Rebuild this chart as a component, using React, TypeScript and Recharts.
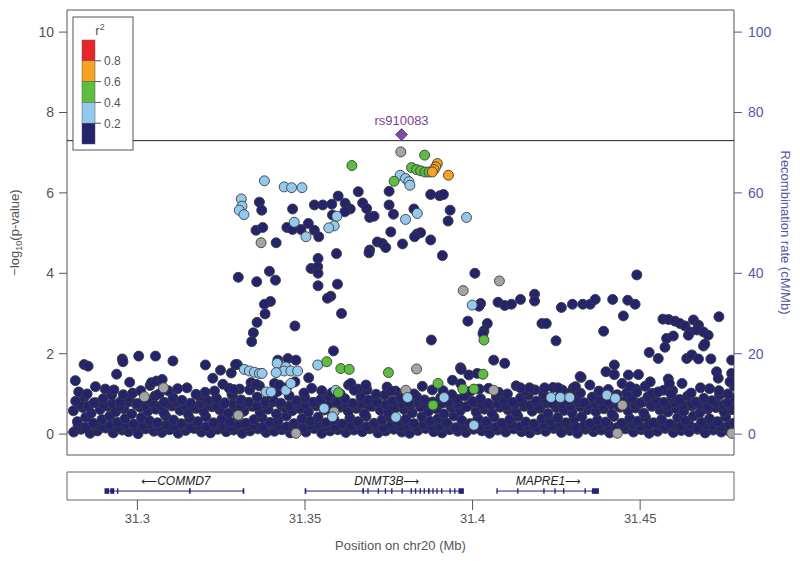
import { ComposedChart, Scatter, XAxis, YAxis, ReferenceLine, ReferenceArea } from "recharts"

const X_MIN = 31.279
const X_MAX = 31.478
const P_DOMAIN = [-0.52, 10.55]
const R_DOMAIN = [-5.2, 105.5]
const pTicks = [0, 2, 4, 6, 8, 10]
const rateTicks = [0, 20, 40, 60, 80, 100]
const posTicks = [31.3, 31.35, 31.4, 31.45]

// SNPs: [kb past 31 Mb, -log10 p]
const bandLow = [[281.0,0.05],[283.2,0.12],[285.9,0.02],[288.1,0.08],[290.6,0.15],[292.8,0.03],[295.5,0.1],[297.4,0.06],[300.2,0.01],[302.5,0.13],[304.9,0.07],[307.3,0.04],[309.6,0.11],[312.2,0.02],[314.4,0.09],[316.9,0.14],[319.1,0.05],[321.8,0.03],[324.0,0.12],[326.5,0.06],[328.7,0.1],[331.3,0.02],[333.6,0.08],[336.0,0.13],[338.4,0.04],[340.9,0.07],[343.1,0.11],[345.6,0.03],[347.8,0.09],[350.3,0.05],[352.7,0.14],[355.0,0.02],[357.5,0.08],[359.8,0.11],[362.2,0.04],[364.6,0.1],[367.1,0.06],[369.3,0.13],[371.8,0.03],[374.1,0.08],[376.5,0.12],[378.9,0.05],[381.2,0.02],[383.7,0.09],[386.0,0.14],[388.4,0.06],[390.9,0.03],[393.2,0.11],[395.6,0.07],[398.0,0.04],[400.3,0.12],[402.8,0.08],[405.1,0.02],[407.5,0.1],[409.9,0.05],[412.3,0.13],[414.6,0.06],[417.1,0.03],[419.4,0.11],[421.8,0.07],[424.2,0.14],[426.5,0.04],[429.0,0.09],[431.3,0.02],[433.7,0.12],[436.1,0.06],[438.4,0.1],[440.9,0.03],[443.2,0.08],[445.6,0.13],[448.0,0.05],[450.4,0.11],[452.7,0.02],[455.2,0.07],[457.5,0.14],[459.9,0.04],[462.3,0.09],[464.6,0.06],[467.1,0.12],[469.4,0.03],[471.8,0.1],[474.2,0.05],[476.6,0.08],[478.7,0.13]]
const bandQuarter = [[282.3,0.2],[284.5,0.17],[287.1,0.23],[289.5,0.19],[291.9,0.22],[294.3,0.16],[296.7,0.24],[299.1,0.18],[301.5,0.21],[303.9,0.25],[306.2,0.17],[308.6,0.22],[311.0,0.19],[313.4,0.24],[315.8,0.16],[318.2,0.21],[320.6,0.18],[323.0,0.23],[325.4,0.2],[327.8,0.16],[330.2,0.24],[332.6,0.19],[335.0,0.22],[337.4,0.17],[339.8,0.25],[342.2,0.2],[344.6,0.18],[347.0,0.23],[349.4,0.16],[351.8,0.21],[354.2,0.24],[356.6,0.19],[359.0,0.17],[361.4,0.22],[363.8,0.2],[366.2,0.25],[368.6,0.18],[371.0,0.21],[373.4,0.16],[375.8,0.23],[378.2,0.19],[380.6,0.22],[383.0,0.17],[385.4,0.24],[387.8,0.2],[390.2,0.18],[392.6,0.23],[395.0,0.16],[397.4,0.21],[399.8,0.25],[402.2,0.19],[404.6,0.22],[407.0,0.17],[409.4,0.2],[411.8,0.24],[414.2,0.18],[416.6,0.21],[419.0,0.16],[421.4,0.23],[423.8,0.19],[426.2,0.25],[428.6,0.2],[431.0,0.17],[433.4,0.22],[435.8,0.18],[438.2,0.24],[440.6,0.21],[443.0,0.16],[445.4,0.2],[447.8,0.23],[450.2,0.18],[452.6,0.22],[455.0,0.25],[457.4,0.17],[459.8,0.21],[462.2,0.19],[464.6,0.24],[467.0,0.16],[469.4,0.22],[471.8,0.2],[474.2,0.18],[476.6,0.23],[478.9,0.19]]
const bandMid = [[282.1,0.31],[284.6,0.42],[286.8,0.27],[289.4,0.36],[291.7,0.44],[294.1,0.29],[296.3,0.38],[298.9,0.25],[301.2,0.41],[303.6,0.33],[306.0,0.28],[308.4,0.45],[310.8,0.35],[313.1,0.26],[315.6,0.39],[318.0,0.31],[320.4,0.43],[322.7,0.28],[325.2,0.37],[327.6,0.3],[330.0,0.44],[332.4,0.27],[334.8,0.36],[337.2,0.41],[339.6,0.29],[342.0,0.34],[344.4,0.45],[346.7,0.26],[349.1,0.38],[351.5,0.32],[353.9,0.42],[356.3,0.28],[358.7,0.36],[361.1,0.25],[363.4,0.4],[365.8,0.31],[368.2,0.44],[370.6,0.27],[373.0,0.35],[375.4,0.42],[377.7,0.29],[380.1,0.37],[382.5,0.26],[384.9,0.43],[387.3,0.32],[389.7,0.38],[392.1,0.28],[394.4,0.45],[396.8,0.34],[399.2,0.26],[401.6,0.39],[404.0,0.31],[406.4,0.42],[408.7,0.27],[411.1,0.36],[413.5,0.44],[415.9,0.3],[418.3,0.25],[420.7,0.38],[423.0,0.33],[425.4,0.41],[427.8,0.28],[430.2,0.37],[432.6,0.43],[435.0,0.26],[437.3,0.35],[439.7,0.3],[442.1,0.44],[444.5,0.27],[446.9,0.39],[449.3,0.32],[451.6,0.42],[454.0,0.28],[456.4,0.36],[458.8,0.25],[461.2,0.41],[463.6,0.33],[465.9,0.45],[468.3,0.29],[470.7,0.38],[473.1,0.31],[475.5,0.43],[477.9,0.27]]
const bandHigh = [[280.9,0.58],[283.7,0.66],[286.2,0.52],[288.9,0.61],[291.2,0.69],[293.5,0.55],[296.0,0.63],[298.3,0.5],[300.8,0.67],[303.1,0.57],[305.5,0.62],[307.9,0.53],[310.3,0.7],[312.7,0.59],[315.1,0.51],[317.5,0.64],[319.8,0.56],[322.3,0.68],[324.6,0.6],[327.1,0.52],[329.4,0.65],[331.8,0.57],[334.3,0.69],[336.6,0.54],[339.0,0.62],[341.5,0.5],[343.8,0.66],[346.2,0.58],[348.6,0.63],[351.0,0.55],[353.4,0.7],[355.8,0.6],[358.2,0.52],[360.6,0.67],[362.9,0.57],[365.3,0.64],[367.7,0.51],[370.1,0.69],[372.5,0.59],[374.9,0.54],[377.2,0.66],[379.6,0.61],[382.0,0.53],[384.4,0.68],[386.8,0.56],[389.2,0.63],[391.5,0.5],[393.9,0.65],[396.3,0.58],[398.7,0.7],[401.1,0.55],[403.5,0.62],[405.8,0.52],[408.2,0.67],[410.6,0.6],[413.0,0.54],[415.4,0.69],[417.8,0.57],[420.1,0.64],[422.5,0.51],[424.9,0.66],[427.3,0.59],[429.7,0.53],[432.1,0.68],[434.4,0.61],[436.8,0.56],[439.2,0.63],[441.6,0.5],[444.0,0.67],[446.4,0.58],[448.7,0.65],[451.1,0.52],[453.5,0.69],[455.9,0.6],[458.3,0.55],[460.7,0.64],[463.0,0.57],[465.4,0.7],[467.8,0.53],[470.2,0.62],[472.6,0.66],[475.0,0.56],[477.4,0.61],[479.3,0.68]]
const bandThreeQuarter = [[282.8,0.74],[285.3,0.7],[287.7,0.78],[290.1,0.72],[292.5,0.76],[294.9,0.69],[297.3,0.8],[299.7,0.73],[302.1,0.71],[304.5,0.77],[306.9,0.7],[309.3,0.75],[311.7,0.79],[314.1,0.72],[316.5,0.68],[318.9,0.76],[321.3,0.73],[323.7,0.7],[326.1,0.78],[328.5,0.74],[330.9,0.71],[333.3,0.77],[335.7,0.69],[338.1,0.75],[340.5,0.8],[342.9,0.72],[345.3,0.7],[347.7,0.76],[350.1,0.73],[352.5,0.79],[354.9,0.71],[357.3,0.74],[359.7,0.68],[362.1,0.77],[364.5,0.72],[366.9,0.75],[369.3,0.7],[371.7,0.78],[374.1,0.73],[376.5,0.69],[378.9,0.76],[381.3,0.71],[383.7,0.79],[386.1,0.74],[388.5,0.7],[390.9,0.77],[393.3,0.72],[395.7,0.75],[398.1,0.68],[400.5,0.78],[402.9,0.73],[405.3,0.71],[407.7,0.76],[410.1,0.7],[412.5,0.74],[414.9,0.79],[417.3,0.72],[419.7,0.69],[422.1,0.77],[424.5,0.73],[426.9,0.75],[429.3,0.7],[431.7,0.78],[434.1,0.72],[436.5,0.76],[438.9,0.71],[441.3,0.74],[443.7,0.69],[446.1,0.77],[448.5,0.73],[450.9,0.8],[453.3,0.71],[455.7,0.75],[458.1,0.7],[460.5,0.78],[462.9,0.72],[465.3,0.76],[467.7,0.74],[470.1,0.69],[472.5,0.77],[474.9,0.73],[477.3,0.71],[479.0,0.75]]
const bandTop = [[281.6,0.82],[284.2,0.93],[287.0,0.78],[289.8,0.88],[292.3,0.97],[294.9,0.8],[297.6,0.9],[300.0,0.76],[302.9,0.86],[305.3,0.95],[308.0,0.79],[310.6,0.91],[313.3,0.84],[315.9,0.77],[318.5,0.94],[321.0,0.83],[323.6,0.89],[326.0,0.76],[328.4,0.96],[331.0,0.85],[333.2,0.79],[335.7,0.92],[338.2,0.81],[340.4,0.87],[342.8,0.77],[345.3,0.95],[347.5,0.83],[350.0,0.9],[352.4,0.78],[354.7,0.86],[357.1,0.94],[359.5,0.8],[361.9,0.88],[364.2,0.76],[366.7,0.92],[369.0,0.84],[371.4,0.79],[373.8,0.97],[376.2,0.82],[378.5,0.89],[381.0,0.77],[383.3,0.93],[385.7,0.85],[388.1,0.8],[390.5,0.91],[392.8,0.78],[395.2,0.87],[397.6,0.95],[400.0,0.81],[402.4,0.88],[404.7,0.76],[407.1,0.93],[409.5,0.84],[411.9,0.79],[414.3,0.9],[416.6,0.97],[419.0,0.82],[421.4,0.86],[423.8,0.77],[426.1,0.94],[428.5,0.83],[430.9,0.89],[433.3,0.78],[435.7,0.92],[438.0,0.85],[440.4,0.8],[442.8,0.96],[445.2,0.81],[447.6,0.88],[449.9,0.77],[452.3,0.93],[454.7,0.84],[457.1,0.79],[459.5,0.91],[461.8,0.86],[464.2,0.95],[466.6,0.8],[469.0,0.89],[471.4,0.83],[473.7,0.97],[476.1,0.78],[478.5,0.9]]
const bandCrest = [[282.5,1.05],[287.5,1.18],[293.0,1.1],[298.6,1.02],[303.8,1.21],[309.2,1.08],[314.8,1.15],[320.2,1.04],[325.5,1.24],[330.5,1.12],[336.4,1.2],[341.8,1.06],[347.0,1.3],[352.0,1.14],[358.0,1.03],[363.0,1.22],[368.5,1.1],[374.5,1.17],[380.0,1.05],[385.0,1.19],[391.2,1.08],[396.5,1.25],[402.0,1.12],[407.8,1.04],[413.0,1.2],[418.6,1.1],[424.0,1.16],[429.5,1.06],[435.0,1.22],[440.5,1.11],[446.0,1.03],[451.5,1.19],[457.0,1.09],[462.5,1.26],[468.0,1.15],[473.5,1.08],[478.0,1.2]]
const bandCrest2 = [[285.0,1.0],[290.4,1.12],[295.8,0.98],[301.0,1.08],[306.5,1.0],[312.0,1.13],[317.5,0.99],[323.0,1.07],[328.2,1.0],[333.5,1.1],[339.0,0.98],[344.5,1.15],[349.7,1.02],[355.0,1.08],[360.5,1.0],[365.8,1.12],[371.2,0.99],[377.0,1.07],[382.5,1.0],[388.0,1.1],[393.8,0.98],[399.3,1.06],[404.8,1.14],[410.4,1.0],[415.8,1.08],[421.2,0.99],[426.7,1.1],[432.2,1.02],[437.7,1.07],[443.2,0.98],[448.7,1.12],[454.2,1.0],[459.7,1.08],[465.2,1.02],[470.7,1.13],[476.2,1.0]]
const navyUpper = [[336.4,5.77],[337.1,5.57],[346.3,5.60],[352.8,5.70],[355.3,5.70],[358.0,5.72],[359.9,5.92],[365.9,6.03],[362.0,5.74],[363.5,5.60],[361.9,5.53],[367.2,5.75],[368.4,5.61],[369.3,5.39],[370.6,5.42],[358.2,5.45],[351.0,5.24],[335.4,5.07],[337.4,5.14],[344.6,5.14],[346.3,5.09],[348.8,5.09],[352.8,5.07],[354.1,4.91],[341.4,4.76],[371.6,4.78],[369.3,4.58],[369.1,4.51],[359.4,4.49],[353.9,4.37],[351.8,4.12],[353.8,4.16],[353.9,4.00],[339.4,4.05],[330.1,3.90],[335.6,3.79],[341.2,3.83],[359.7,3.73],[353.9,3.69],[357.7,3.43],[356.7,3.38],[339.7,3.30],
  [375.1,6.04],[387.5,5.96],[390.2,5.93],[391.3,5.96],[375.1,5.70],[376.4,5.47],[382.5,5.60],[393.3,5.57],[392.7,5.30],[375.6,5.03],[383.5,4.98],[384.5,5.01],[382.7,4.91],[387.5,4.83],[373.1,4.74],[374.1,4.64],[379.1,4.73],
  [391.0,4.44],[400.7,4.00],[402.4,3.25],[401.9,3.18],[407.6,3.28],[409.6,3.20],[411.6,3.23],[414.3,3.35],[418.5,3.48],[418.5,3.31],[398.6,2.81],[404.4,2.75],[403.4,2.57],[403.1,2.50],[420.7,2.75],[422.0,2.75],[424.9,2.32],[426.5,3.15],[429.8,3.23],[432.9,3.23],[435.1,3.23],[436.6,3.35],[441.8,3.35],[446.3,3.33],[448.5,3.23],[449.0,3.96],[445.0,2.94],[439.1,2.56],
  [456.8,2.86],[458.5,2.85],[460.4,2.81],[461.9,2.75],[463.4,2.69],[465.9,2.84],[467.4,2.71],[464.9,2.54],[466.9,2.59],[468.9,2.54],[464.4,2.46],[470.3,2.46],[473.5,2.92],[457.9,2.38],[459.9,2.44],[457.4,2.16],[468.9,2.19],[469.3,2.24],[452.7,2.03],[455.4,1.88],[463.9,1.88],[465.4,1.97],[467.4,1.87],[471.1,1.87],[477.3,1.84],[406.3,1.84],[409.6,1.76],[396.4,1.65],[442.3,1.72],
  [337.9,3.23],[338.1,2.99],[335.7,2.78],[334.6,2.52],[334.1,2.30],[347.0,2.69],[360.9,3.00],[387.7,2.34],[358.5,2.07],[344.9,1.88],[341.9,1.84],
  [329.8,1.73],[347.3,1.84],[351.1,1.40],[363.7,1.26],[364.7,1.09],[375.6,1.07],[394.0,1.34],[396.6,1.61],[398.9,1.47],[401.4,1.51],[414.3,1.15],[417.0,1.15],[421.5,1.15],[425.5,1.15],[430.1,1.15],[432.4,1.41],
  [439.8,1.55],[442.3,1.48],[446.5,1.47],[449.5,1.48],[453.0,1.30],[458.4,1.37],[458.7,1.26],[444.6,1.26],[447.0,1.18],[449.0,1.04],[453.5,1.01],[455.4,1.05],[459.2,1.01],[432.1,1.43],[430.7,1.18],[472.8,1.55],[473.3,1.39],[477.3,1.51],[476.8,1.30],
  [300.4,1.94],[305.4,1.94],[295.5,1.87],[295.7,1.80],[310.6,1.82],[284.1,1.73],[285.3,1.69],[320.3,1.72],[324.8,1.59],[328.0,1.52],[329.3,1.73],[293.8,1.49],[281.5,1.33],[297.7,1.29],[304.2,1.28],[305.7,1.32],[307.4,1.36],[322.5,1.39],[327.4,1.14],[328.7,1.11],
  [333.9,1.28],[335.4,1.24],[340.9,1.26],[342.4,1.22],[368.2,1.22]]
const grayPts = [[336.9,4.76],[408.0,3.81],[397.2,3.57],[307.8,1.15],[383.3,1.62],[406.3,1.09],[380.1,1.09],[330.1,0.47],[347.3,0.02],[358.7,0.55],[444.7,0.72],[443.2,0.02],[477.3,0.02],[302.1,0.93],[378.6,7.02]]
const lightBluePts = [[337.9,6.30],[343.8,6.15],[346.0,6.13],[349.1,6.13],[331.0,5.85],[331.2,5.67],[330.4,5.57],[331.8,5.46],[359.5,5.42],[358.7,5.18],[357.1,5.13],[346.8,5.27],[350.3,4.91],[378.4,6.44],[380.0,6.36],[381.0,6.28],[381.3,6.19],[383.5,5.49],[380.0,5.34],[398.2,5.39],[399.9,3.21],
  [353.8,1.72],[331.9,1.61],[333.4,1.57],[334.9,1.54],[336.4,1.51],[337.2,1.51],[341.7,1.76],[344.3,1.67],[343.8,1.57],[341.4,1.53],[345.8,1.57],[347.8,1.57],[338.4,1.05],[339.9,1.05],[344.3,1.09],[345.8,1.26],[359.2,1.09],[355.7,0.64],[358.2,0.43],[377.1,0.42],[380.6,0.91],[391.5,0.91],[423.4,0.91],[426.2,0.91],[429.0,0.91],[400.4,0.22],[440.1,0.97],[442.6,0.89]]
const greenPts = [[364.0,6.68],[385.7,6.94],[381.8,6.63],[383.3,6.58],[384.5,6.55],[385.8,6.52],[387.0,6.52],[376.6,6.29],[403.4,2.34],[356.5,1.80],[360.7,1.63],[363.2,1.61],[374.9,1.53],[360.0,1.03],[403.1,1.49],[389.7,1.26],[397.1,1.12],[400.4,1.12],[388.2,0.72]]
const orangePts = [[389.5,6.73],[389.0,6.65],[388.5,6.58],[388.0,6.52],[392.8,6.44]]
const indexSnp = [{ kb: 378.8, p: 7.45, name: "rs910083" }]

// recombination rate, cM/Mb
const recombRate = [[279, 0.5], [300, 0.6], [330, 0.4], [360, 0.5], [400, 0.8], [430, 1.0], [450, 2.2], [460, 1.2], [478, 0.6]]

// genes (Mb)
const genes = [
  { name: "COMMD7", dir: "left", start: 31.2903, end: 31.3317, labelAt: 31.3115 },
  { name: "DNMT3B", dir: "right", start: 31.3501, end: 31.3972, labelAt: 31.3744 },
  { name: "MAPRE1", dir: "right", start: 31.4073, end: 31.4375, labelAt: 31.4226 },
]
const exons = [
  [31.2902, 31.2916], [31.2919, 31.2931], [31.2939, 31.2943], [31.3154, 31.3159], [31.3314, 31.3319],
  [31.3499, 31.3504], [31.3671, 31.3676], [31.3686, 31.3690], [31.3717, 31.3721], [31.3738, 31.3742], [31.3757, 31.3761],
  [31.3788, 31.3792], [31.3815, 31.3819], [31.3828, 31.3832], [31.3842, 31.3846], [31.3854, 31.3858], [31.3867, 31.3872],
  [31.3880, 31.3884], [31.3892, 31.3896], [31.3906, 31.3910], [31.3931, 31.3935], [31.3945, 31.3949], [31.3958, 31.3974],
  [31.4071, 31.4075], [31.4133, 31.4137], [31.4211, 31.4215], [31.4244, 31.4248], [31.4270, 31.4274], [31.4334, 31.4338], [31.4356, 31.4377],
]

const legendColors = ["#e8262a", "#f7a321", "#5dbd3f", "#94c9ee", "#23236e"]
const legendLabels = ["0.8", "0.6", "0.4", "0.2"]

const NAVY = "#23236e"
const GRAY = "#a4a4a4"
const LIGHT_BLUE = "#94c9ee"
const GREEN = "#5dbd3f"
const ORANGE = "#f7a321"

const toPts = (rows: number[][]) => rows.map(([kb, p]) => ({ x: 31 + kb / 1000, p }))

const dot = (fill: string) => (props: any) => (
  <circle cx={props.cx} cy={props.cy} r={5} fill={fill} stroke="#3c3c3c" strokeWidth={0.9} />
)

const Diamond = (props: any) => {
  const { cx, cy, payload } = props
  return (
    <g>
      <polygon points={`${cx},${cy - 6} ${cx + 6},${cy} ${cx},${cy + 6} ${cx - 6},${cy}`} fill="#7c4ea3" stroke="#55306f" strokeWidth={0.8} />
      <text x={cx} y={cy - 10} textAnchor="middle" fill="#7a3f98" fontSize={13}>{payload.name}</text>
    </g>
  )
}

const LeftLabel = (props: any) => {
  const { viewBox } = props
  const cy = viewBox.y + viewBox.height / 2
  return (
    <text transform={`translate(19, ${cy}) rotate(-90)`} textAnchor="middle" fill="#555" fontSize={13}>
      <tspan>{"\u2212log"}</tspan>
      <tspan dy={3} fontSize={9}>10</tspan>
      <tspan dy={-3}>(p-value)</tspan>
    </text>
  )
}

const RightLabel = (props: any) => {
  const { viewBox } = props
  const cy = viewBox.y + viewBox.height / 2
  return (
    <text transform={`translate(781, ${cy}) rotate(90)`} textAnchor="middle" fill="#5656a6" fontSize={13}>
      Recombination rate (cM/Mb)
    </text>
  )
}

const BottomLabel = (props: any) => {
  const { viewBox } = props
  return (
    <text x={viewBox.x + viewBox.width / 2} y={viewBox.y + 50} textAnchor="middle" fill="#555" fontSize={13}>
      Position on chr20 (Mb)
    </text>
  )
}

const GeneLabel = (props: any) => {
  const { cx, cy, payload } = props
  const arrow = <tspan fontFamily="'DejaVu Sans'" fontStyle="normal" fontSize={11}>{payload.dir === "left" ? "\u27F5" : "\u27F6"}</tspan>
  return (
    <text x={cx} y={cy + 4} textAnchor="middle" fontStyle="italic" fill="#222" fontSize={12}>
      {payload.dir === "left" && arrow}
      <tspan>{payload.name}</tspan>
      {payload.dir !== "left" && arrow}
    </text>
  )
}

const Legend = () => {
  const top = 40
  const step = 20.8
  return (
    <svg width={800} height={561} style={{ position: "absolute", left: 0, top: 0, pointerEvents: "none" }}>
      <rect x={73} y={17} width={60} height={133} fill="#fff" stroke="#555" strokeWidth={1} />
      <text x={100} y={35} textAnchor="middle" fill="#555" fontSize={13}>
        r<tspan dy={-5} fontSize={9}>2</tspan>
      </text>
      {legendColors.map((c, i) => (
        <rect key={c} x={82} y={top + i * step} width={13} height={step} fill={c} stroke="#555" strokeWidth={0.5} />
      ))}
      {legendLabels.map((l, i) => (
        <g key={l}>
          <line x1={95} x2={101} y1={top + (i + 1) * step} y2={top + (i + 1) * step} stroke="#555" />
          <text x={104} y={top + (i + 1) * step + 4.5} fill="#555" fontSize={12}>{l}</text>
        </g>
      ))}
    </svg>
  )
}

const App = () => {
  const bandPts = toPts([...bandLow, ...bandQuarter, ...bandMid, ...bandHigh, ...bandThreeQuarter, ...bandTop, ...bandCrest, ...bandCrest2])
  const recomb = recombRate.map(([kb, rate]) => ({ x: 31 + kb / 1000, rate }))
  const geneLabels = genes.map((g) => ({ x: g.labelAt, y: 0.68, name: g.name, dir: g.dir }))
  const idx = indexSnp.map((d) => ({ x: 31 + d.kb / 1000, p: d.p, name: d.name }))

  return (
    <div style={{ position: "relative", width: 800, height: 561, background: "#fff", fontFamily: "'Liberation Sans', Arial, sans-serif" }}>
      <style>{"body{margin:0}"}</style>
      <div style={{ position: "absolute", left: 0, top: 0 }}>
        <ComposedChart width={800} height={470} margin={{ top: 10, right: 21, bottom: 15, left: 27 }}>
          <XAxis type="number" dataKey="x" domain={[X_MIN, X_MAX]} hide allowDataOverflow />
          <YAxis
            yAxisId="p"
            dataKey="p"
            type="number"
            width={40}
            domain={P_DOMAIN}
            ticks={pTicks}
            allowDataOverflow
            axisLine={false}
            tickLine={{ stroke: "#555" }}
            tickSize={8}
            tickMargin={5}
            tick={{ fill: "#555", fontSize: 14 }}
            label={<LeftLabel />}
          />
          <YAxis
            yAxisId="r"
            dataKey="rate"
            type="number"
            orientation="right"
            width={45}
            domain={R_DOMAIN}
            ticks={rateTicks}
            allowDataOverflow
            axisLine={false}
            tickLine={{ stroke: "#5656a6" }}
            tickSize={8}
            tickMargin={6}
            tick={{ fill: "#5656a6", fontSize: 14 }}
            label={<RightLabel />}
          />
          <Scatter yAxisId="r" data={recomb} line={{ stroke: "#4b4bc4", strokeWidth: 1 }} shape={() => <g />} isAnimationActive={false} />
          <Scatter yAxisId="p" data={bandPts} shape={dot(NAVY)} isAnimationActive={false} />
          <Scatter yAxisId="p" data={toPts(navyUpper)} shape={dot(NAVY)} isAnimationActive={false} />
          <Scatter yAxisId="p" data={toPts(grayPts)} shape={dot(GRAY)} isAnimationActive={false} />
          <Scatter yAxisId="p" data={toPts(lightBluePts)} shape={dot(LIGHT_BLUE)} isAnimationActive={false} />
          <Scatter yAxisId="p" data={toPts(greenPts)} shape={dot(GREEN)} isAnimationActive={false} />
          <Scatter yAxisId="p" data={toPts(orangePts)} shape={dot(ORANGE)} isAnimationActive={false} />
          <ReferenceLine yAxisId="p" y={7.3} stroke="#222" strokeWidth={1} />
          <Scatter yAxisId="p" data={idx} shape={Diamond} isAnimationActive={false} />
          <ReferenceArea yAxisId="p" x1={X_MIN} x2={X_MAX} y1={P_DOMAIN[0]} y2={P_DOMAIN[1]} fill="none" fillOpacity={0} stroke="#555" strokeWidth={1} ifOverflow="visible" />
        </ComposedChart>
      </div>
      <div style={{ position: "absolute", left: 0, top: 462 }}>
        <ComposedChart width={800} height={99} margin={{ top: 10, right: 66, bottom: 0, left: 67 }}>
          <XAxis
            type="number"
            dataKey="x"
            domain={[X_MIN, X_MAX]}
            ticks={posTicks}
            allowDataOverflow
            height={61}
            axisLine={false}
            tickLine={{ stroke: "#555" }}
            tickSize={10}
            tickMargin={4}
            tick={{ fill: "#555", fontSize: 13 }}
            label={<BottomLabel />}
          />
          <YAxis dataKey="y" type="number" domain={[0, 1]} hide />
          <ReferenceArea x1={X_MIN} x2={X_MAX} y1={0} y2={1} fill="none" fillOpacity={0} stroke="#666" strokeWidth={1} ifOverflow="visible" />
          {genes.map((g) => (
            <ReferenceLine key={g.name} segment={[{ x: g.start, y: 0.32 }, { x: g.end, y: 0.32 }]} stroke="#23237a" strokeWidth={1} />
          ))}
          {exons.map(([a, b], i) => (
            <ReferenceArea key={i} x1={a} x2={b} y1={0.22} y2={0.42} fill="#23237a" fillOpacity={1} stroke="none" />
          ))}
          <Scatter data={geneLabels} shape={GeneLabel} isAnimationActive={false} />
        </ComposedChart>
      </div>
      <Legend />
    </div>
  )
}

export default App
